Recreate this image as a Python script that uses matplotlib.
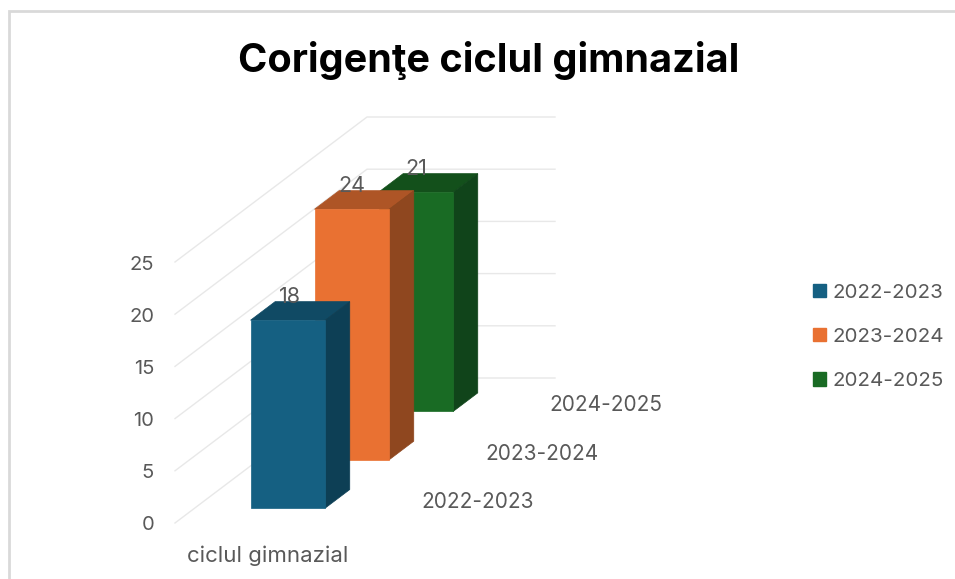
import matplotlib
matplotlib.use('Agg')
import matplotlib.pyplot as plt
from matplotlib.patches import Patch, Polygon

# data
seasons = ['2022-2023', '2023-2024', '2024-2025']
values = [18, 24, 21]
category = 'ciclul gimnazial'
value_ticks = [0, 5, 10, 15, 20, 25]
title = 'Corigenţe ciclul gimnazial'

front_colors = ['#156082', '#E97132', '#196B24']
top_colors = ['#104A64', '#AE5526', '#13501B']
side_colors = ['#0D3F55', '#8F471F', '#10441A']

text_color = '#595959'
grid_color = '#E8E8E8'
plt.rcParams['font.family'] = ['Inter', 'DejaVu Sans']

# oblique projection of the 3d box on to pixels
x0, y0 = 175, 523
wall_w = 188
depth_x, depth_y = 192, -145
unit = 10.44


def project(u, d, v):
    return x0 + wall_w * u + depth_x * d, y0 + depth_y * d - unit * v


fig = plt.figure(figsize=(9.55, 5.79), dpi=100)
ax = fig.add_axes([0, 0, 1, 1])
ax.set_xlim(0, 955)
ax.set_ylim(579, 0)
ax.axis('off')

# chart border, only left and top are visible
ax.plot([9, 9, 955], [578, 10.5, 10.5], color='#D9D9D9', lw=2, solid_joinstyle='miter')

# gridlines and value labels
for v in value_ticks:
    pts = [project(0, 0, v), project(0, 1, v), project(1, 1, v)]
    ax.plot([p[0] for p in pts], [p[1] for p in pts], color=grid_color, lw=1, zorder=1)
    x, y = project(0, 0, v)
    ax.text(x - 21, y + 2.5, str(v), ha='right', va='center', fontsize=14.5, color=text_color)

# bars, back one first
bar_u = 0.297
bar_w = 0.397
bar_d = 0.128
slot = 1 / 3
for i in reversed(range(len(values))):
    d0 = slot * i + (slot - bar_d) / 2
    d1 = d0 + bar_d
    u0, u1 = bar_u, bar_u + bar_w
    v = values[i]
    faces = [
        ([(u0, d0, v), (u1, d0, v), (u1, d1, v), (u0, d1, v)], top_colors[i]),
        ([(u1, d0, 0), (u1, d1, 0), (u1, d1, v), (u1, d0, v)], side_colors[i]),
        ([(u0, d0, 0), (u1, d0, 0), (u1, d0, v), (u0, d0, v)], front_colors[i]),
    ]
    for corners, col in faces:
        ax.add_patch(Polygon([project(*c) for c in corners], closed=True, facecolor=col,
                             edgecolor=col, lw=0.5, zorder=3 + (2 - i)))
    lx, ly = project((u0 + u1) / 2, d0, v)
    ax.text(lx + (2 if i == 0 else 0), ly - 23, str(v), ha='center', va='center', fontsize=15.5,
            color=text_color, zorder=10)

    # series labels on the depth axis
    sx, sy = project(1, slot * i + slot / 2, 0)
    ax.text(sx + 83, sy + 3, seasons[i], ha='center', va='center', fontsize=15, color=text_color)

cx, cy = project(0.5, 0, 0)
ax.text(cx - 1, cy + 33, category, ha='center', va='center', fontsize=16, color=text_color)

ax.text(489, 60, title, ha='center', va='center', fontsize=28.5, fontweight='bold', color='black')

handles = [Patch(facecolor=c, edgecolor=c, label=s) for c, s in zip(front_colors, seasons)]
ax.legend(handles=handles, loc='center left', bbox_to_anchor=(805 / 955, 1 - 337 / 579),
          frameon=False, fontsize=14.8, labelcolor=text_color, handlelength=0.63, handleheight=0.63,
          handletextpad=0.29, labelspacing=1.27, borderpad=0, borderaxespad=0.4)

fig.savefig('out.png', dpi=100)
